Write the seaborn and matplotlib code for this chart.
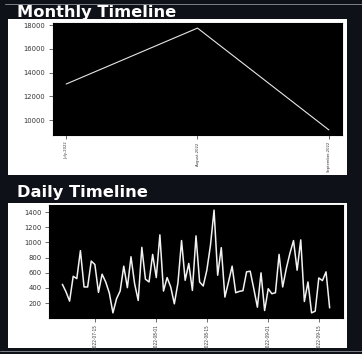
import matplotlib
matplotlib.use("Agg")
import matplotlib.pyplot as plt
import matplotlib.dates as mdates
from matplotlib import font_manager
from matplotlib.patches import Rectangle
from matplotlib.lines import Line2D
import seaborn as sns
import pandas as pd

# Monthly totals
months = ["July-2022", "August-2022", "September-2022"]
monthly_counts = [13040, 17760, 9170]

# Daily totals, one per day starting 2022-07-06
daily_start = "2022-07-06"
daily_counts = [
    448, 350, 227, 554, 523, 891, 413, 413, 754, 709,
    342, 581, 479, 333, 72, 258, 360, 687, 404, 811,
    457, 235, 935, 515, 479, 842, 537, 1099, 359, 537,
    413, 191, 466, 1024, 501, 723, 368, 1086, 479, 426,
    634, 960, 1425, 568, 931, 280, 480, 687, 337, 355,
    364, 612, 621, 390, 147, 599, 103, 390, 324, 337,
    842, 413, 656, 856, 1024, 634, 1033, 222, 479, 72,
    94, 532, 497, 612, 138,
]
daily_ticks = ["2022-07-15", "2022-08-01", "2022-08-15", "2022-09-01", "2022-09-15"]
daily_yticks = [200, 400, 600, 800, 1000, 1200, 1400]

sns.set_style("white")


def narrow_font():
    """Pick a narrow face for the rotated date labels, if one is installed."""
    entries = font_manager.fontManager.ttflist
    for f in entries:
        if f.name == "Liberation Sans Narrow":
            return {"family": "Liberation Sans Narrow"}, 1.0
    for f in entries:
        if f.name == "DejaVu Sans" and f.stretch in ("condensed", "semi-condensed", 75, 87):
            return {"family": "DejaVu Sans", "stretch": "condensed"}, 0.86
    for f in entries:
        if "Condensed" in f.name or "Narrow" in f.name:
            return {"family": f.name}, 0.9
    return {"family": "DejaVu Sans"}, 0.72


NARROW, NARROW_SCALE = narrow_font()

W, H = 362, 354
BG = "#0e1117"
fig = plt.figure(figsize=(W / 100, H / 100), dpi=100, facecolor=BG)


def box(x0, y0, x1, y1):
    """Figure-fraction rectangle from pixel corners (top-left origin)."""
    return (x0 / W, 1 - y1 / H, (x1 - x0) / W, (y1 - y0) / H)


# page frame lines
fig.add_artist(Line2D([5 / W, 1], [1 - 4 / H] * 2, color="#7d8189", lw=0.7,
                      transform=fig.transFigure))
fig.add_artist(Line2D([0, 1], [1 - 351 / H] * 2, color="#7d8189", lw=0.7,
                      transform=fig.transFigure))

# white chart panels
for (x0, y0, x1, y1) in [(8, 19, 347, 175), (8, 203, 347, 348)]:
    l, b, w, h = box(x0, y0, x1, y1)
    fig.add_artist(Rectangle((l, b), w, h, transform=fig.transFigure,
                             facecolor="white", edgecolor="none", zorder=0))

# section headings
fig.text(17 / W, 1 - 16.5 / H, "Monthly Timeline", color="white",
         fontsize=11.7, fontweight="bold", va="baseline", ha="left")
fig.text(17 / W, 1 - 197.5 / H, "Daily Timeline", color="white",
         fontsize=11.7, fontweight="bold", va="baseline", ha="left")

TICK_C = "#333333"


def style_axes(ax, xsize):
    ax.set_facecolor("black")
    ax.set_xlabel("")
    ax.set_ylabel("")
    ax.tick_params(axis="y", labelsize=4.9, labelcolor=TICK_C, colors=TICK_C,
                   length=3, width=0.5, left=True, pad=2.5)
    ax.tick_params(axis="x", labelsize=xsize * NARROW_SCALE, labelcolor=TICK_C,
                   colors=TICK_C, length=3, width=0.5, bottom=True, pad=1.5)
    for lab in ax.get_xticklabels():
        lab.set_rotation(90)
        lab.set_fontfamily(NARROW["family"])
        if "stretch" in NARROW:
            lab.set_fontstretch(NARROW["stretch"])
    for s in ax.spines.values():
        s.set_color("black")


# ---- monthly chart ----
ax1 = fig.add_axes(box(53, 23, 342, 135))
monthly_df = pd.DataFrame({"month": months, "count": monthly_counts})
sns.lineplot(data=monthly_df, x="month", y="count", sort=False, ax=ax1,
             color="#e6e6e6", lw=0.8)
ax1.set_yticks([10000, 12000, 14000, 16000, 18000])
style_axes(ax1, 3.5)

# ---- daily chart ----
ax2 = fig.add_axes(box(49, 205, 343, 318))
daily_df = pd.DataFrame({
    "date": pd.date_range(daily_start, periods=len(daily_counts), freq="D"),
    "count": daily_counts,
})
sns.lineplot(data=daily_df, x="date", y="count", ax=ax2, color="#f2f2f2", lw=1.1)
ax2.set_xticks(pd.to_datetime(daily_ticks))
ax2.xaxis.set_major_formatter(mdates.DateFormatter("%Y-%m-%d"))
ax2.set_yticks(daily_yticks)
style_axes(ax2, 4.0)

fig.savefig("out.png", dpi=100, facecolor=BG)
